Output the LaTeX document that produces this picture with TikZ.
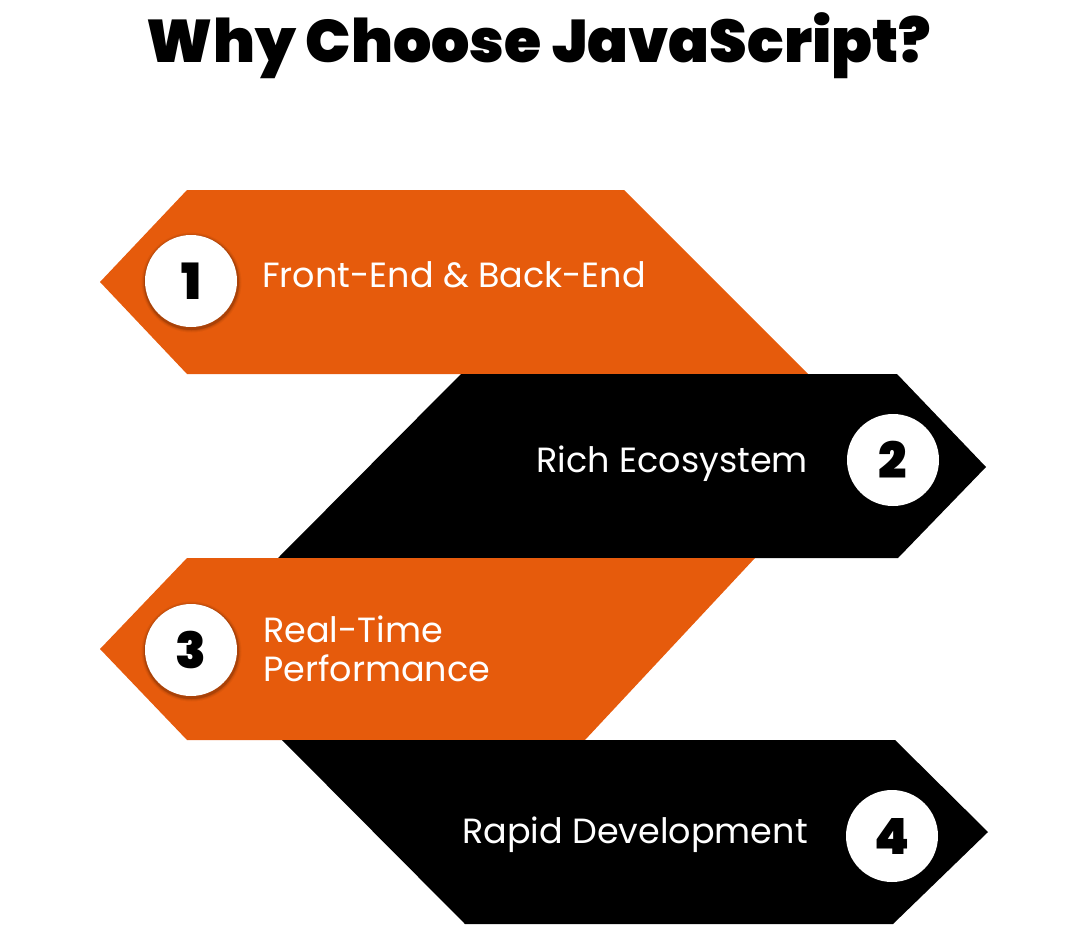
\documentclass[tikz,border=0pt]{standalone}
\usepackage{fontspec}
\setmainfont{Poppins}
\newfontfamily\poppinsblack{Poppins}[UprightFont=* Black]
\usetikzlibrary{calc}
\definecolor{jsorange}{HTML}{E65B0C}
\tikzset{
  label1/.style={text=white, font=\fontsize{35}{39}\selectfont, inner sep=0pt, align=left},
  numcircle/.style={circle, fill=white, minimum size=92pt, inner sep=0pt, font=\poppinsblack\fontsize{50}{50}\selectfont, text=black},
  titlestyle/.style={font=\poppinsblack\fontsize{60.2}{60}\selectfont, inner sep=0pt}
}
\newcommand{\softshadow}[1]{%
  \foreach \r/\o in {50/0.04,49/0.06,48/0.08,47.5/0.1}{\fill[black,opacity=\o] ($(#1)+(0.5,1.5)$) circle (\r);}%
}
\begin{document}
\begin{tikzpicture}[x=1pt,y=-1pt]
\useasboundingbox (0,0) rectangle (1080,927);
% title
\node[titlestyle, anchor=base] (title) at (539,62) {Why Choose JavaScript?};
% shapes
\fill[jsorange] (187,190) -- (624,190) -- (808,374) -- (187,374) -- (100,282) -- cycle;
\fill[black] (461,374) -- (897,374) -- (986,467) -- (898,558) -- (278,558) -- cycle;
\fill[jsorange] (187,558) -- (755,558) -- (585,740) -- (187,740) -- (100,649) -- cycle;
\fill[black] (282,740) -- (895,740) -- (988,832) -- (893,924) -- (465,924) -- cycle;
% circles
\coordinate (c1) at (191,281);
\coordinate (c2) at (893,460);
\coordinate (c3) at (191,650);
\coordinate (c4) at (892,836);
\softshadow{c1}\softshadow{c2}\softshadow{c3}\softshadow{c4}
\node[numcircle] (n1) at (c1) {1};
\node[numcircle] (n2) at (c2) {2};
\node[numcircle] (n3) at (c3) {3};
\node[numcircle] (n4) at (c4) {4};
% labels
\node[label1, anchor=base west] (t1) at (262,287) {Front-End \& Back-End};
\node[label1, anchor=base east] (t2) at (808,472) {Rich Ecosystem};
\node[label1, anchor=base west] (t3) at (263,681) {Real-Time\\Performance};
\node[label1, anchor=base east] (t4) at (808,843) {Rapid Development};
\end{tikzpicture}
\end{document}
